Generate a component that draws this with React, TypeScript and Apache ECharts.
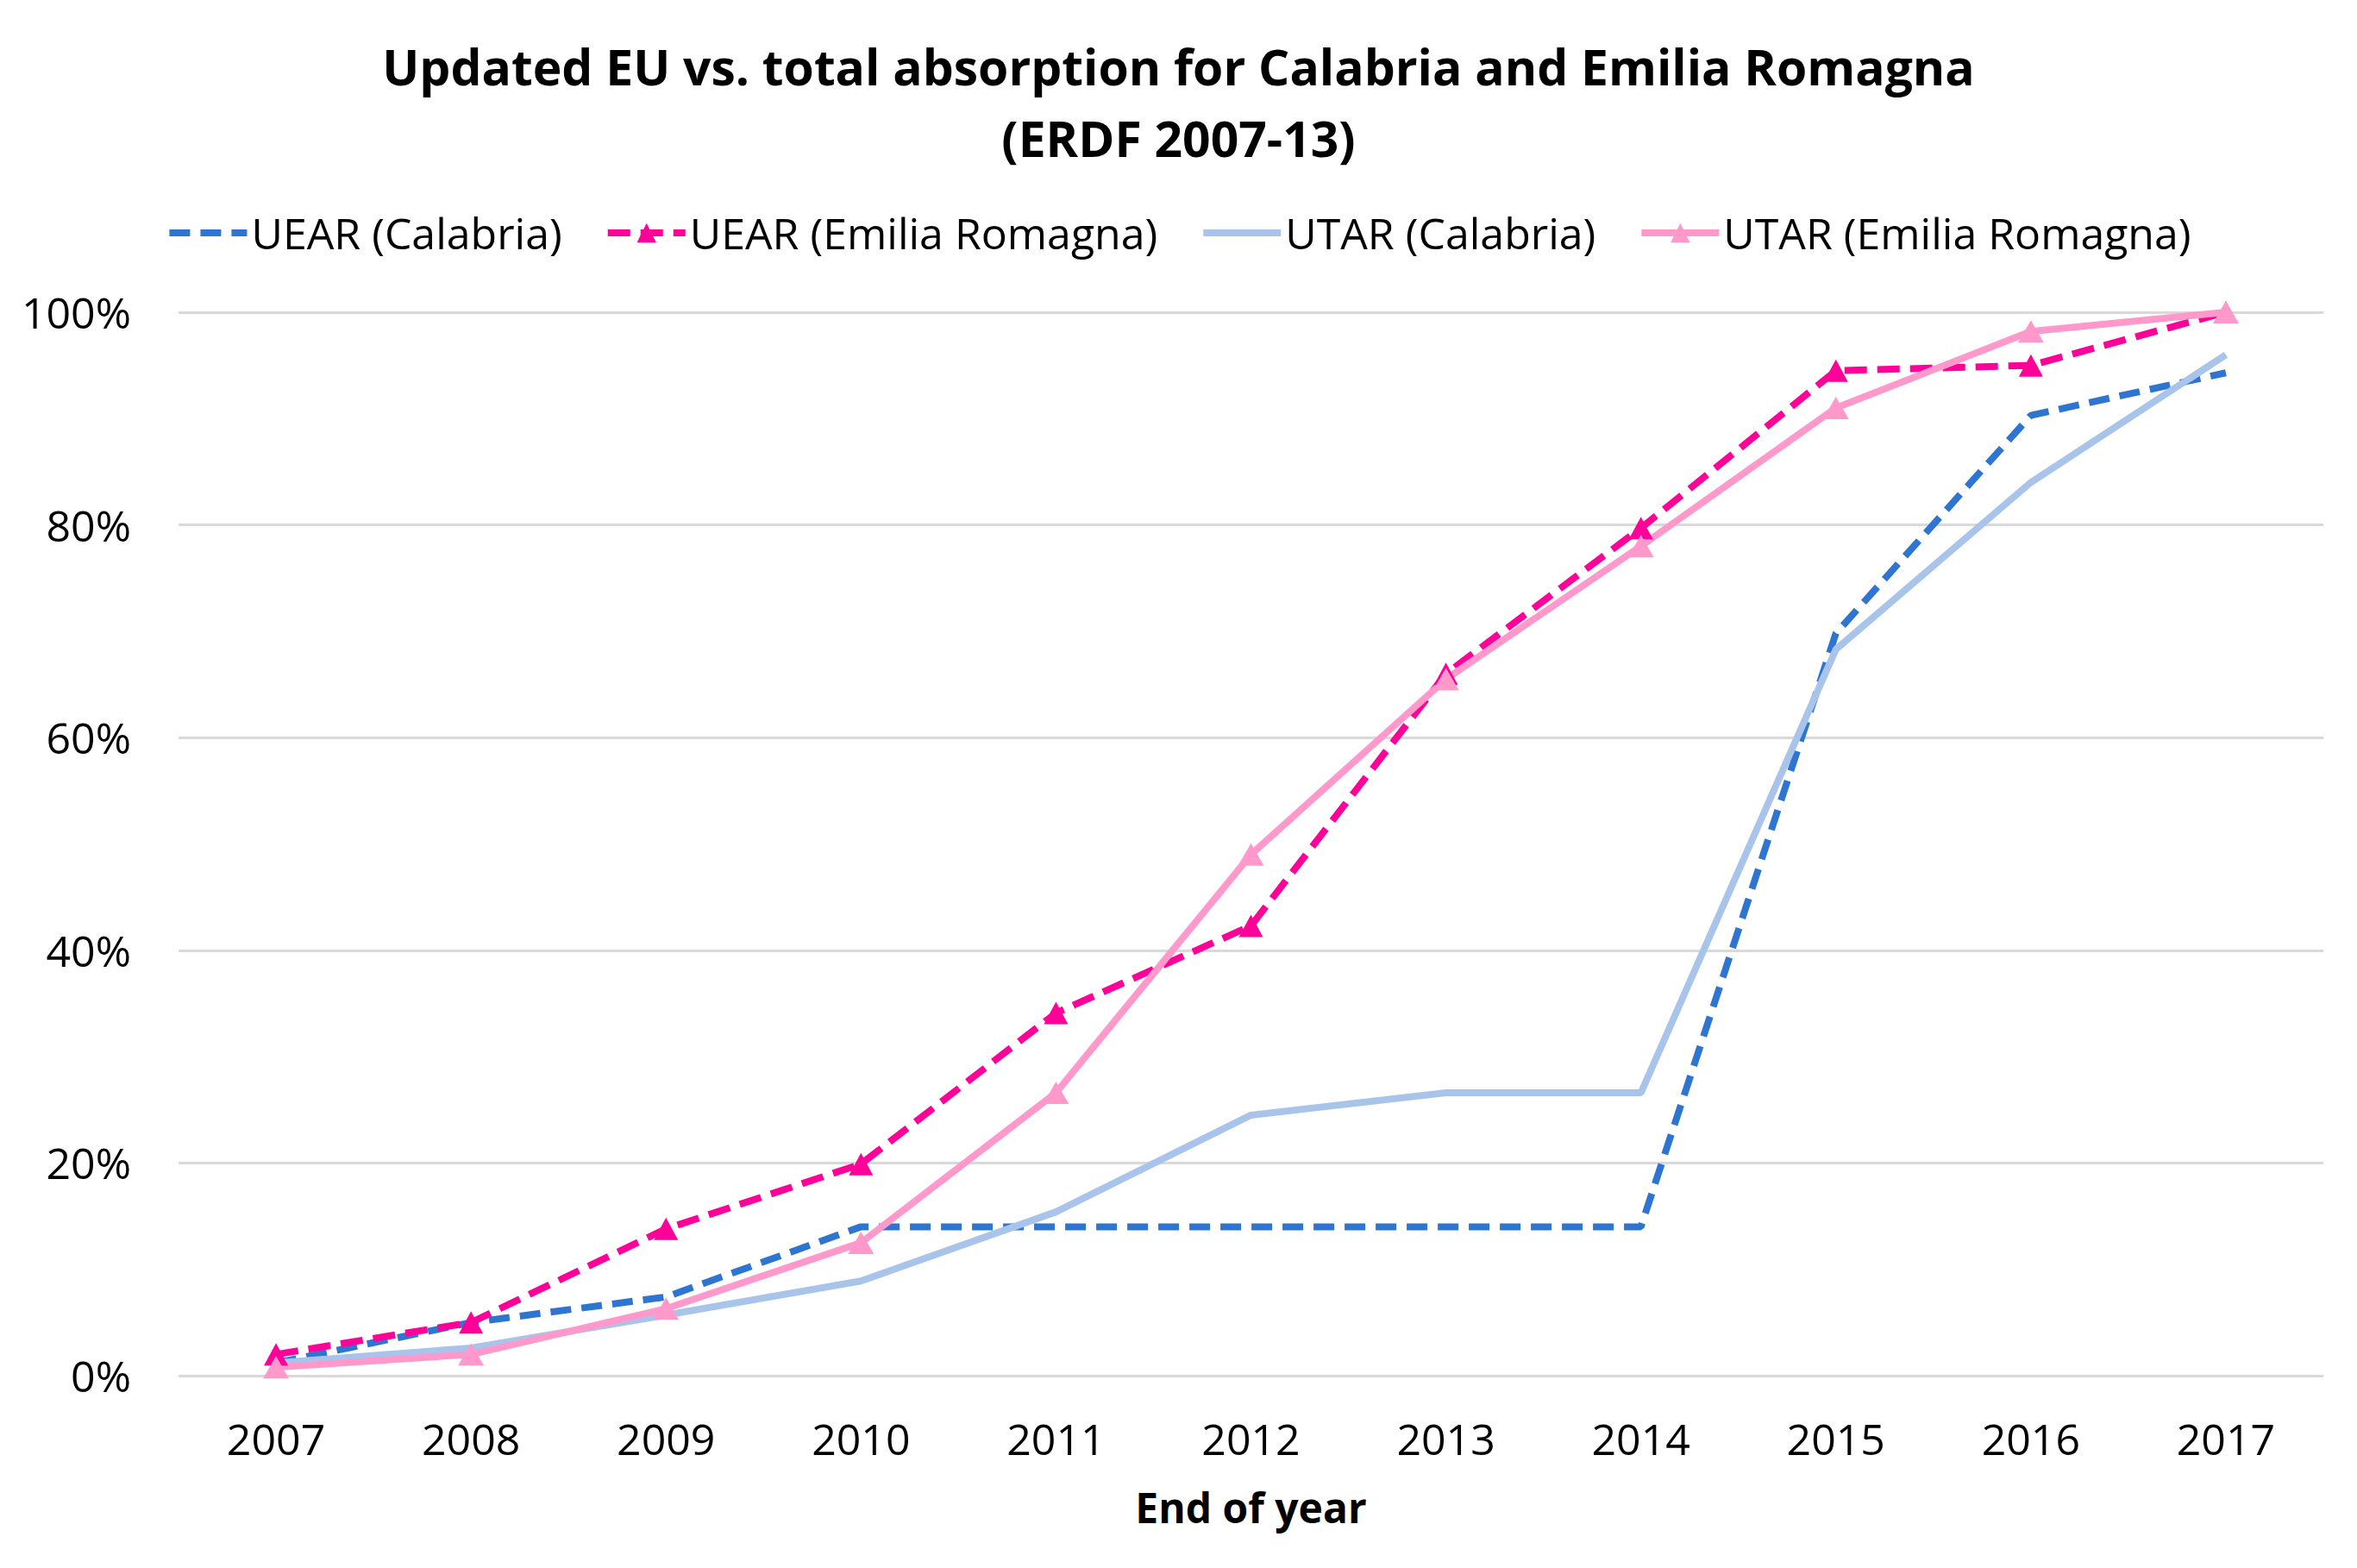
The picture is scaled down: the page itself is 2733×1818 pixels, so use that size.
import React, { useEffect, useRef } from "react";
import * as echarts from "echarts";

const years = ["2007", "2008", "2009", "2010", "2011", "2012", "2013", "2014", "2015", "2016", "2017"];
const uearCalabria = [1.2, 5.0, 7.4, 14.0, 14.0, 14.0, 14.0, 14.0, 69.8, 90.3, 94.3];
const uearEmilia = [2.0, 5.0, 13.8, 19.9, 34.1, 42.3, 66.0, 79.7, 94.5, 95.0, 100.0];
const utarCalabria = [1.2, 2.6, 5.7, 8.9, 15.4, 24.5, 26.6, 26.6, 68.3, 84.0, 96.0];
const utarEmilia = [0.8, 2.0, 6.3, 12.5, 26.6, 49.0, 65.5, 78.0, 91.0, 98.2, 100.0];
const seriesNames = ["UEAR (Calabria)", "UEAR (Emilia Romagna)", "UTAR (Calabria)", "UTAR (Emilia Romagna)"];
const titleText = "Updated EU vs. total absorption for Calabria and Emilia Romagna\n(ERDF 2007-13)";
const xAxisName = "End of year";

const FONT = "'Open Sans', 'DejaVu Sans', sans-serif";

export default function App() {
  const ref = useRef<HTMLDivElement>(null);
  useEffect(() => {
    document.body.style.margin = "0";
    const chart = echarts.init(ref.current!, null, { renderer: "svg" });
    chart.setOption({
      animation: false,
      backgroundColor: "#ffffff",
      textStyle: { fontFamily: FONT },
      title: {
        text: titleText,
        left: "center",
        top: 30,
        textStyle: {
          fontFamily: FONT,
          fontWeight: "bold",
          fontSize: 57,
          lineHeight: 83,
          color: "#000000",
        },
      },
      legend: {
        top: 240,
        left: "center",
        itemWidth: 90,
        itemHeight: 28,
        itemGap: 49,
        lineStyle: { width: 8 },
        textStyle: { fontFamily: FONT, fontSize: 50, color: "#000000" },
        data: [
          { name: seriesNames[0], itemStyle: { opacity: 0 } },
          { name: seriesNames[1] },
          { name: seriesNames[2], itemStyle: { opacity: 0 } },
          { name: seriesNames[3] },
        ],
      },
      grid: { left: 207, right: 39, top: 362, bottom: 223, containLabel: false },
      xAxis: {
        type: "category",
        data: years,
        boundaryGap: true,
        axisLine: { show: false },
        axisTick: { show: false },
        axisLabel: { fontFamily: FONT, fontSize: 50, color: "#000000", margin: 48 },
        name: xAxisName,
        nameLocation: "middle",
        nameGap: 128,
        nameTextStyle: { fontFamily: FONT, fontSize: 48, fontWeight: "bold", color: "#000000" },
      },
      yAxis: {
        type: "value",
        min: 0,
        max: 100,
        interval: 20,
        axisLine: { show: false },
        axisTick: { show: false },
        axisLabel: { fontFamily: FONT, fontSize: 50, color: "#000000", margin: 55, formatter: "{value}%" },
        splitLine: { lineStyle: { color: "#d9d9d9", width: 3 } },
      },
      series: [
        {
          name: seriesNames[0],
          type: "line",
          data: uearCalabria,
          symbol: "none",
          lineStyle: { color: "#2E75D2", width: 8, type: [24, 12] },
          itemStyle: { color: "#2E75D2" },
        },
        {
          name: seriesNames[1],
          type: "line",
          data: uearEmilia,
          symbol: "triangle",
          symbolSize: [28, 26],
          lineStyle: { color: "#FF0099", width: 8, type: [26, 12] },
          itemStyle: { color: "#FF0099" },
        },
        {
          name: seriesNames[2],
          type: "line",
          data: utarCalabria,
          symbol: "none",
          lineStyle: { color: "#A9C4EB", width: 8 },
          itemStyle: { color: "#A9C4EB" },
        },
        {
          name: seriesNames[3],
          type: "line",
          data: utarEmilia,
          symbol: "triangle",
          symbolSize: [30, 26],
          lineStyle: { color: "#FF99CC", width: 8 },
          itemStyle: { color: "#FF99CC" },
        },
      ],
    });
    return () => chart.dispose();
  }, []);
  return <div ref={ref} style={{ width: 2733, height: 1818 }} />;
}
